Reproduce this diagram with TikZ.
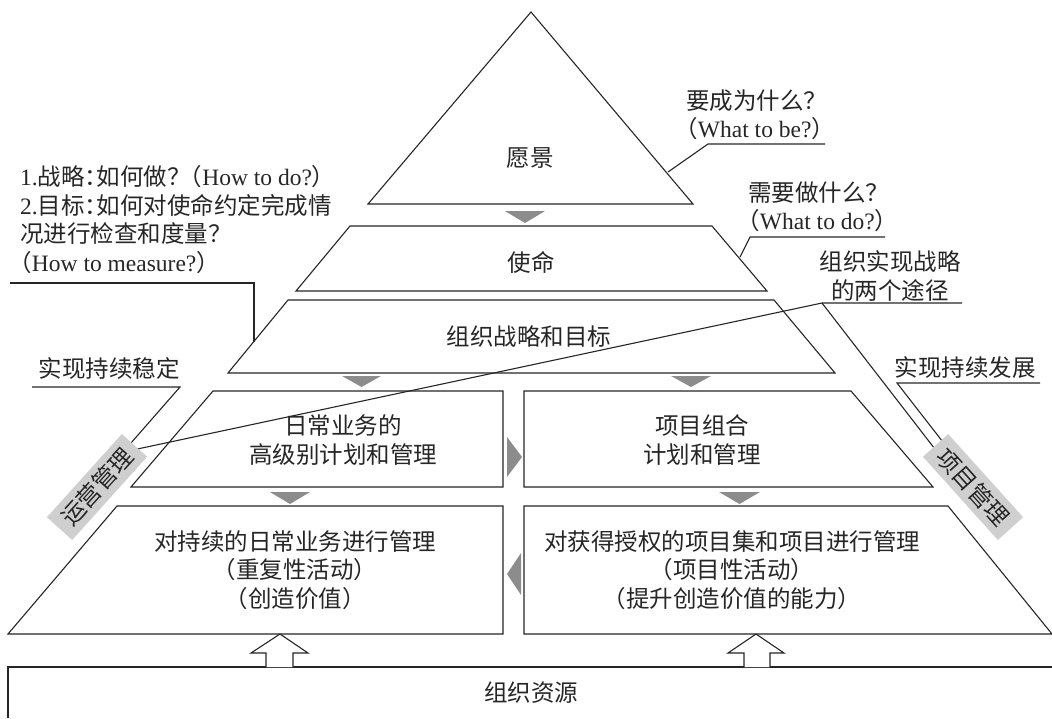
\documentclass[tikz,border=0pt]{standalone}
\usepackage{fontspec}
\setmainfont{Noto Sans CJK SC}
\newfontfamily\latf{Liberation Serif}
\newfontfamily\cjkh{Noto Sans CJK SC}[RawFeature=+halt]
\begin{document}
\begin{tikzpicture}[x=1pt,y=-1pt,
  ln/.style={draw=black!85,line width=1.1pt,line join=miter},
  layer/.style={ln,fill=white},
  garrow/.style={fill=black!45,draw=none},
  tagbox/.style={fill=black!19,draw=none,minimum width=112pt,minimum height=34pt,inner sep=0pt,font=\fontsize{23.5}{28}\selectfont,text=black!85},
  txt/.style={inner sep=0pt,align=center,font=\fontsize{23.5}{28.5}\selectfont,text=black!85},
  ltxt/.style={txt,align=left,anchor=west},
]
\useasboundingbox (0,0) rectangle (1052,718);

% ---- layers ----
\draw[layer] (531,12) -- (693,204) -- (368,204) -- cycle;
\draw[layer] (350,226) -- (712,226) -- (767,291) -- (296,291) -- cycle;
\draw[layer] (288,300) -- (774,300) -- (835,373) -- (228,373) -- cycle;
\draw[layer] (213,391) -- (503,391) -- (503,487) -- (131,487) -- cycle;
\draw[layer] (524,391) -- (851,391) -- (933,487) -- (524,487) -- cycle;
\draw[layer] (117,506) -- (503,506) -- (503,634) -- (8,634) -- cycle;
\draw[layer] (524,506) -- (948,506) -- (1052,634) -- (524,634) -- cycle;
\draw[ln] (8,718) -- (8,667) -- (1052,667);

% ---- block arrows up ----
\draw[layer] (266,667) -- (266,653) -- (251,653) -- (280,634) -- (308,653) -- (293,653) -- (293,667);
\draw[layer] (744,667) -- (744,653) -- (728,653) -- (756,634) -- (784,653) -- (770,653) -- (770,667);

% ---- gray arrows ----
\fill[garrow] (505,211) -- (545,211) -- (525,223) -- cycle;
\fill[garrow] (342,376) -- (381,376) -- (361.5,387) -- cycle;
\fill[garrow] (671,376) -- (711,376) -- (691,387) -- cycle;
\fill[garrow] (270,492) -- (310,492) -- (290,504) -- cycle;
\fill[garrow] (719,492) -- (760,492) -- (739.5,504) -- cycle;
\fill[garrow] (507,437) -- (522,457) -- (507,477) -- cycle;
\fill[garrow] (521,553) -- (507,574) -- (521,595) -- cycle;

% ---- leader coordinates ----
\coordinate (Lv)  at (668,172);
\coordinate (Lv1) at (708,144);
\coordinate (Lv2) at (825,144);
\coordinate (Lm)  at (740,257);
\coordinate (Lm1) at (750,237);
\coordinate (Lm2) at (885,237);
\coordinate (Ls)  at (254,342);
\coordinate (Ls1) at (254,283);
\coordinate (Ls2) at (10,283);
\coordinate (Lw)  at (822,303);
\coordinate (Lw2) at (962,303);
\coordinate (Lwo) at (128,451);
\coordinate (Lwp) at (938,453);
\coordinate (Lst) at (180,387);
\coordinate (Lst2) at (32,387);
\coordinate (Lsto) at (124,451);
\coordinate (Ldv) at (897,383);
\coordinate (Ldv2) at (1040,383);
\coordinate (Ldvp) at (946,446);

\draw[ln] (Lv) -- (Lv1) -- (Lv2);
\draw[ln] (Lm) -- (Lm1) -- (Lm2);
\draw[ln] (Ls) -- (Ls1) -- (Ls2);
\draw[ln] (Lw2) -- (Lw) -- (Lwo);
\draw[ln] (Lw) -- (Lwp);
\draw[ln] (Lst2) -- (Lst) -- (Lsto);
\draw[ln] (Ldv2) -- (Ldv) -- (Ldvp);

% ---- tags ----
\node[tagbox,rotate=48] (opm) at (97,487) {运营管理};
\node[tagbox,rotate=-48] (pjm) at (973,487) {项目管理};

% ---- texts ----
\node[txt] (vision) at (530,158) {愿景};
\node[txt] (mission) at (531,262) {使命};
\node[txt] (strategy) at (529,337) {组织战略和目标};
\node[txt] (opplan) at (343,440) {日常业务的\\高级别计划和管理};
\node[txt] (pfplan) at (702,440) {项目组合\\计划和管理};
\node[txt] (opexec) at (295,570) {对持续的日常业务进行管理\\（重复性活动）\\（创造价值）};
\node[txt] (pjexec) at (732,570) {对获得授权的项目集和项目进行管理\\（项目性活动）\\（提升创造价值的能力）};
\node[txt] (res) at (531,693) {组织资源};

\node[ltxt] (qs) at (20,219.5) {{\latf 1.}战略{\cjkh ：}如何做？{\cjkh （}{\latf How to do?}{\cjkh ）}\\
{\latf 2.}目标{\cjkh ：}如何对使命约定完成情\\
况进行检查和度量？\\
{\cjkh （}{\latf How to measure?}{\cjkh ）}};
\node[ltxt] (qv) at (686,115) {要成为什么？\\{\cjkh （}{\latf What to be?}{\cjkh ）}};
\node[ltxt] (qm) at (748,207) {需要做什么？\\{\cjkh （}{\latf What to do?}{\cjkh ）}};
\node[txt] (ways) at (890,276) {组织实现战略\\的两个途径};
\node[txt] (stable) at (109,369) {实现持续稳定};
\node[txt] (develop) at (965,368) {实现持续发展};
\end{tikzpicture}
\end{document}
